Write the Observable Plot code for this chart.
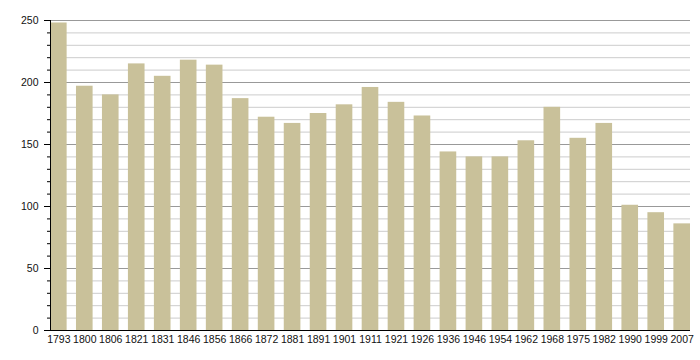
<!DOCTYPE html>
<html>
<head>
<meta charset="utf-8">
<script src="https://cdn.jsdelivr.net/npm/d3@7"></script>
<script src="https://cdn.jsdelivr.net/npm/@observablehq/plot@0.6"></script>
<style>
  html, body { margin: 0; padding: 0; background: #fff; }
  #chart svg { display: block; }
</style>
</head>
<body>
<div id="chart"></div>
<script>
const years = ["1793","1800","1806","1821","1831","1846","1856","1866","1872","1881","1891","1901","1911","1921","1926","1936","1946","1954","1962","1968","1975","1982","1990","1999","2007"];
const population = [248,197,190,215,205,218,214,187,172,167,175,182,196,184,173,144,140,140,153,180,155,167,101,95,86];
const majorTicks = [0,50,100,150,200,250];
const minorTicks = [0,10,20,30,40,50,60,70,80,90,100,110,120,130,140,150,160,170,180,190,200,210,220,230,240,250];

const data = years.map((year, i) => ({year, value: population[i]}));

const chart = Plot.plot({
  width: 700,
  height: 360,
  marginLeft: 50,
  marginRight: 10,
  marginTop: 20,
  marginBottom: 30,
  style: {fontFamily: "'Liberation Sans', Arial, sans-serif", background: "#fff", color: "#000"},
  x: {domain: years, paddingInner: 0.36, paddingOuter: 0, round: false, label: null},
  y: {domain: [0, 250], label: null},
  marks: [
    Plot.ruleY(minorTicks.filter(d => d % 50 !== 0), {stroke: "#cccccc"}),
    Plot.ruleY(majorTicks.filter(d => d > 0), {stroke: "#999999"}),
    Plot.barY(data, {x: "year", y: "value", fill: "#c9c19a"}),
    Plot.axisY({ticks: minorTicks, tickSize: 3, tickFormat: () => "", stroke: "#000", strokeOpacity: 1}),
    Plot.axisY({ticks: majorTicks, tickSize: 6, tickPadding: 6, fontSize: 10.5, stroke: "#000", strokeOpacity: 1, fill: "#111", label: null}),
    Plot.frame({anchor: "left", stroke: "#000"}),
    Plot.ruleY([0], {stroke: "#000"}),
    Plot.axisX({tickSize: 0, tickPadding: 5, fontSize: 10.5, fill: "#111", label: null})
  ]
});
document.getElementById("chart").append(chart);
</script>
</body>
</html>
